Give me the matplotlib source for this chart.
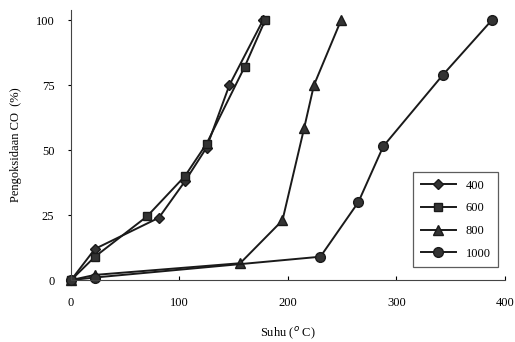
import matplotlib.pyplot as plt

plt.rcParams['font.family'] = 'Liberation Serif'

# data
suhu_400 = [0, 22, 81, 105, 125, 146, 177]
co_400 = [0, 12, 24, 38, 51, 75, 100]

suhu_600 = [0, 22, 70, 105, 125, 160, 179]
co_600 = [0, 9, 24.5, 40, 52.5, 82, 100]

suhu_800 = [0, 22, 156, 195, 215, 224, 249]
co_800 = [0, 2, 6.5, 23, 58.5, 75, 100]

suhu_1000 = [0, 22, 230, 265, 288, 343, 388]
co_1000 = [0, 1, 9, 30, 51.5, 79, 100]

series = [
    (suhu_400, co_400, 'D', 5, '400'),
    (suhu_600, co_600, 's', 6, '600'),
    (suhu_800, co_800, '^', 7, '800'),
    (suhu_1000, co_1000, 'o', 7, '1000'),
]

fig = plt.figure(figsize=(5.15, 3.42), dpi=100)
ax = fig.add_axes([0.138, 0.181, 0.842, 0.79])

for x, y, m, ms, lab in series:
    ax.plot(x, y, color='#1a1a1a', lw=1.4, marker=m, ms=ms,
            mfc='#333333', mec='#1a1a1a', label=lab, clip_on=False)

ax.set_xlim(0, 400)
ax.set_ylim(0, 104)
ax.set_xticks([0, 100, 200, 300, 400])
ax.set_yticks([0, 25, 50, 75, 100])
ax.tick_params(axis='x', direction='in', length=3, labelsize=9, pad=12)
ax.tick_params(axis='y', direction='out', length=2, labelsize=9, pad=10)
for s in ['top', 'right']:
    ax.spines[s].set_visible(False)
ax.spines['left'].set_color('#444444')
ax.spines['bottom'].set_color('#444444')

ax.set_xlabel('Suhu ($^{o}$ C)', fontsize=9, labelpad=12)
ax.set_ylabel('Pengoksidaan CO  (%)', fontsize=9, labelpad=10)

leg = ax.legend(loc='lower right', bbox_to_anchor=(1.0, 0.025), fontsize=9,
                frameon=True, fancybox=False, edgecolor='#333333',
                handlelength=2.8, labelspacing=0.85, borderpad=0.6)
leg.get_frame().set_linewidth(0.9)

fig.savefig('out.png', dpi=100)
